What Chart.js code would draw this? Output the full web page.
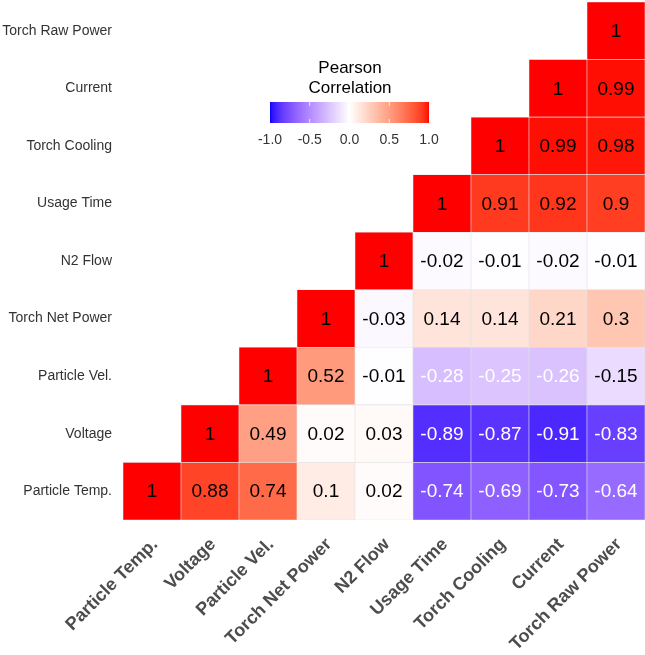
<!DOCTYPE html>
<html>
<head>
<meta charset="utf-8">
<script src="https://cdn.jsdelivr.net/npm/chart.js@4"></script>
<style>
  body { margin: 0; background: #fff; }
  #wrap { width: 645px; height: 655px; }
</style>
</head>
<body>
<div id="wrap"><canvas id="corr" width="645" height="655"></canvas></div>
<script>
// Variables, bottom row to top row (also left to right on x)
const variables = ['Particle Temp.', 'Voltage', 'Particle Vel.', 'Torch Net Power', 'N2 Flow',
  'Usage Time', 'Torch Cooling', 'Current', 'Torch Raw Power'];

// Correlation rows (null = hidden lower triangle)
const particleTemp  = [1, 0.88, 0.74, 0.1, 0.02, -0.74, -0.69, -0.73, -0.64];
const voltage       = [null, 1, 0.49, 0.02, 0.03, -0.89, -0.87, -0.91, -0.83];
const particleVel   = [null, null, 1, 0.52, -0.01, -0.28, -0.25, -0.26, -0.15];
const torchNetPower = [null, null, null, 1, -0.03, 0.14, 0.14, 0.21, 0.3];
const n2Flow        = [null, null, null, null, 1, -0.02, -0.01, -0.02, -0.01];
const usageTime     = [null, null, null, null, null, 1, 0.91, 0.92, 0.9];
const torchCooling  = [null, null, null, null, null, null, 1, 0.99, 0.98];
const current       = [null, null, null, null, null, null, null, 1, 0.99];
const torchRawPower = [null, null, null, null, null, null, null, null, 1];

const rows = [particleTemp, voltage, particleVel, torchNetPower, n2Flow,
  usageTime, torchCooling, current, torchRawPower];

const legendBreaks = [-1.0, -0.5, 0.0, 0.5, 1.0];

// Diverging colour scale blue - white - red, interpolated in CIELAB
function toLinear(c) { c /= 255; return c <= 0.04045 ? c / 12.92 : Math.pow((c + 0.055) / 1.055, 2.4); }
function fromLinear(c) { c = c <= 0.0031308 ? 12.92 * c : 1.055 * Math.pow(c, 1 / 2.4) - 0.055; return Math.round(Math.max(0, Math.min(1, c)) * 255); }
const Xn = 0.95047, Yn = 1.0, Zn = 1.08883;
function rgbToLab(r, g, b) {
  r = toLinear(r); g = toLinear(g); b = toLinear(b);
  const x = (r * 0.4124 + g * 0.3576 + b * 0.1805) / Xn;
  const y = (r * 0.2126 + g * 0.7152 + b * 0.0722) / Yn;
  const z = (r * 0.0193 + g * 0.1192 + b * 0.9505) / Zn;
  const f = t => t > 0.008856 ? Math.cbrt(t) : 7.787 * t + 16 / 116;
  const fx = f(x), fy = f(y), fz = f(z);
  return [116 * fy - 16, 500 * (fx - fy), 200 * (fy - fz)];
}
function labToRgb(L, a, bb) {
  const fy = (L + 16) / 116, fx = fy + a / 500, fz = fy - bb / 200;
  const inv = t => t * t * t > 0.008856 ? t * t * t : (t - 16 / 116) / 7.787;
  const x = inv(fx) * Xn, y = inv(fy) * Yn, z = inv(fz) * Zn;
  const r = x * 3.2406 + y * -1.5372 + z * -0.4986;
  const g = x * -0.9689 + y * 1.8758 + z * 0.0415;
  const b = x * 0.0557 + y * -0.2040 + z * 1.0570;
  return `rgb(${fromLinear(r)},${fromLinear(g)},${fromLinear(b)})`;
}
const labWhite = rgbToLab(255, 255, 255);
const labRed = rgbToLab(255, 0, 0);
const labBlue = rgbToLab(0, 0, 255);
function corrColor(v) {
  const end = v >= 0 ? labRed : labBlue;
  const t = Math.min(1, Math.abs(v));
  return labToRgb(
    labWhite[0] + (end[0] - labWhite[0]) * t,
    labWhite[1] + (end[1] - labWhite[1]) * t,
    labWhite[2] + (end[2] - labWhite[2]) * t);
}

const FONT = "'Liberation Sans', Arial, sans-serif";

// One floating-bar dataset per row, each cell spans [row-0.5, row+0.5]
const datasets = rows.map((vals, i) => ({
  label: variables[i],
  data: vals.map(v => v === null ? null : [i - 0.5, i + 0.5]),
  corr: vals,
  backgroundColor: vals.map(v => v === null ? 'rgba(0,0,0,0)' : corrColor(v)),
  borderColor: '#e4e4e4',
  borderWidth: 0.6,
  borderSkipped: false,
  barPercentage: 1,
  categoryPercentage: 1,
  grouped: false
}));

// Numbers in the cells
const cellLabels = {
  id: 'cellLabels',
  afterDatasetsDraw(chart) {
    const ctx = chart.ctx;
    ctx.save();
    ctx.font = `19px ${FONT}`;
    ctx.textAlign = 'center';
    ctx.textBaseline = 'middle';
    chart.data.datasets.forEach((ds, di) => {
      const meta = chart.getDatasetMeta(di);
      meta.data.forEach((bar, j) => {
        const v = ds.corr[j];
        if (v === null) return;
        const cy = (bar.y + bar.base) / 2;
        ctx.fillStyle = v < -0.2 ? '#ffffff' : '#000000';
        ctx.fillText(String(v), bar.x, cy + 1);
      });
    });
    ctx.restore();
  }
};

// Colour bar legend
const colorLegend = {
  id: 'colorLegend',
  afterDraw(chart) {
    const ctx = chart.ctx;
    const x0 = 270, x1 = 429, y0 = 102, h = 21;
    ctx.save();
    ctx.fillStyle = '#000';
    ctx.font = `17px ${FONT}`;
    ctx.textAlign = 'center';
    ctx.textBaseline = 'middle';
    ctx.fillText('Pearson', 350, 68);
    ctx.fillText('Correlation', 350, 88);
    for (let px = x0; px < x1; px++) {
      const v = -1 + 2 * (px + 0.5 - x0) / (x1 - x0);
      ctx.fillStyle = corrColor(v);
      ctx.fillRect(px, y0, 1, h);
    }
    ctx.strokeStyle = 'rgba(255,255,255,0.8)';
    ctx.lineWidth = 1;
    ctx.font = `14px ${FONT}`;
    legendBreaks.forEach(b => {
      const px = x0 + (b + 1) / 2 * (x1 - x0);
      if (b > -1 && b < 1) {
        ctx.beginPath();
        ctx.moveTo(px, y0); ctx.lineTo(px, y0 + 4);
        ctx.moveTo(px, y0 + h - 4); ctx.lineTo(px, y0 + h);
        ctx.stroke();
      }
      ctx.fillStyle = '#333';
      ctx.fillText(b.toFixed(1), px, 140);
    });
    ctx.restore();
  }
};

function noPad(scale) {
  scale.paddingTop = 0;
  scale.paddingBottom = 0;
  scale.paddingLeft = 0;
  scale.paddingRight = 0;
}

new Chart(document.getElementById('corr'), {
  type: 'bar',
  data: { labels: variables, datasets: datasets },
  options: {
    responsive: false,
    devicePixelRatio: 1,
    animation: false,
    layout: { padding: { top: 2, right: 0, left: 0, bottom: 0 } },
    plugins: {
      legend: { display: false },
      tooltip: { enabled: false },
      title: { display: false }
    },
    scales: {
      x: {
        type: 'category',
        grid: { display: false, drawTicks: false },
        border: { display: false },
        afterFit(scale) { scale.height = 135; noPad(scale); },
        ticks: {
          autoSkip: false,
          minRotation: 45,
          maxRotation: 45,
          padding: 14,
          labelOffset: 3,
          color: '#4d4d4d',
          font: { family: FONT, size: 18, weight: 'bold' }
        }
      },
      y: {
        type: 'linear',
        min: -0.5,
        max: 8.5,
        grid: { display: false, drawTicks: false },
        border: { display: false },
        afterFit(scale) { scale.width = 123; noPad(scale); },
        afterBuildTicks(scale) { scale.ticks = variables.map((_, i) => ({ value: i })); },
        ticks: {
          padding: 11,
          color: '#333',
          font: { family: FONT, size: 14 },
          callback: (value) => variables[value]
        }
      }
    }
  },
  plugins: [cellLabels, colorLegend]
});
</script>
</body>
</html>
